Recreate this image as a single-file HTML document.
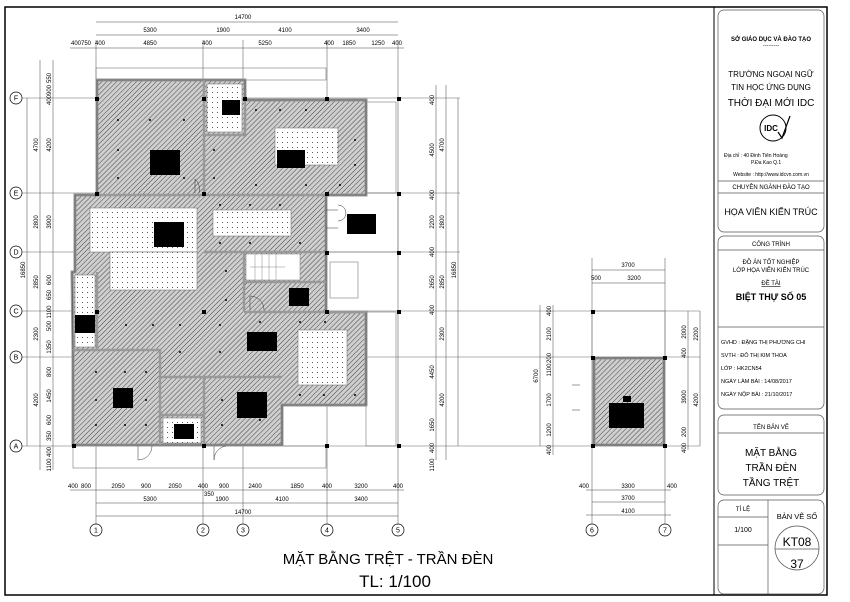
<!DOCTYPE html>
<html><head><meta charset="utf-8">
<style>
html,body{margin:0;padding:0;background:#fff;}
svg{display:block;}
text{font-family:"Liberation Sans",Arial,sans-serif;fill:#000;}
</style></head>
<body>
<svg width="850" height="602" viewBox="0 0 850 602" xmlns="http://www.w3.org/2000/svg">
<defs>
<pattern id="h" width="3.5" height="3.5" patternUnits="userSpaceOnUse" patternTransform="rotate(45)">
<rect width="3.5" height="3.5" fill="#cfcfcf"/>
<line x1="0" y1="0" x2="0" y2="3.5" stroke="#444" stroke-width="1"/>
</pattern>
<pattern id="d" width="5" height="5" patternUnits="userSpaceOnUse">
<rect width="5" height="5" fill="#fff"/>
<circle cx="2.5" cy="2.5" r="0.55" fill="#333"/>
</pattern>
</defs>

<rect x="5" y="7" width="822" height="588" fill="none" stroke="#000" stroke-width="1.5"/>
<line x1="714" y1="7" x2="714" y2="595" stroke="#000" stroke-width="1"/>

<g stroke="#666" stroke-width="0.6">
<line x1="22" y1="98" x2="460" y2="98"/>
<line x1="22" y1="193" x2="460" y2="193"/>
<line x1="22" y1="252" x2="460" y2="252"/>
<line x1="22" y1="311" x2="700" y2="311"/>
<line x1="22" y1="357" x2="700" y2="357"/>
<line x1="22" y1="446" x2="700" y2="446"/>
<line x1="96" y1="40" x2="96" y2="524"/>
<line x1="203" y1="40" x2="203" y2="524"/>
<line x1="243" y1="40" x2="243" y2="524"/>
<line x1="327" y1="40" x2="327" y2="524"/>
<line x1="398" y1="40" x2="398" y2="524"/>
<line x1="592" y1="258" x2="592" y2="524"/>
<line x1="665" y1="258" x2="665" y2="524"/>
</g>

<g fill="#fff" stroke="#000" stroke-width="0.7">
<circle cx="16" cy="98" r="6"/><circle cx="16" cy="193" r="6"/><circle cx="16" cy="252" r="6"/>
<circle cx="16" cy="311" r="6"/><circle cx="16" cy="357" r="6"/><circle cx="16" cy="446" r="6"/>
<circle cx="96" cy="530" r="6"/><circle cx="203" cy="530" r="6"/><circle cx="243" cy="530" r="6"/>
<circle cx="327" cy="530" r="6"/><circle cx="398" cy="530" r="6"/><circle cx="592" cy="530" r="6"/><circle cx="665" cy="530" r="6"/>
</g>
<g font-size="7" text-anchor="middle">
<text x="16" y="100.5">F</text><text x="16" y="195.5">E</text><text x="16" y="254.5">D</text>
<text x="16" y="313.5">C</text><text x="16" y="359.5">B</text><text x="16" y="448.5">A</text>
<text x="96" y="532.5">1</text><text x="203" y="532.5">2</text><text x="243" y="532.5">3</text>
<text x="327" y="532.5">4</text><text x="398" y="532.5">5</text><text x="592" y="532.5">6</text><text x="665" y="532.5">7</text>
</g>

<g fill="none" stroke="#777" stroke-width="0.6">
<rect x="96" y="68" width="230" height="12"/>
<rect x="73" y="446" width="253" height="22"/>
<rect x="326" y="193" width="72" height="59"/>
<rect x="330" y="262" width="28" height="36"/>
<rect x="366" y="102" width="30" height="91"/>
<rect x="366" y="312" width="30" height="134"/>
<rect x="592" y="311" width="73" height="46"/>
</g>

<path d="M97,80 L245,80 L245,100 L366,100 L366,195 L326,195 L326,312 L366,312 L366,405 L282,405 L282,445 L73,445 L73,350 L72,272 L75,272 L75,195 L97,195 Z" fill="url(#h)" stroke="#999" stroke-width="3"/>
<path d="M97,80 L245,80 L245,100 L366,100 L366,195 L326,195 L326,312 L366,312 L366,405 L282,405 L282,445 L73,445 L73,350 L72,272 L75,272 L75,195 L97,195 Z" fill="none" stroke="#444" stroke-width="0.6"/>

<g stroke="#999" stroke-width="2.5" fill="none">
<line x1="204" y1="80" x2="204" y2="195"/>
<line x1="204" y1="135" x2="245" y2="135"/>
<line x1="245" y1="100" x2="245" y2="135"/>
<line x1="97" y1="195" x2="326" y2="195"/>
<line x1="204" y1="252" x2="326" y2="252"/>
<line x1="244" y1="252" x2="244" y2="312"/>
<line x1="244" y1="282" x2="326" y2="282"/>
<line x1="97" y1="272" x2="97" y2="350"/>
<line x1="73" y1="350" x2="160" y2="350"/>
<line x1="160" y1="350" x2="160" y2="445"/>
<line x1="160" y1="377" x2="282" y2="377"/>
<line x1="204" y1="377" x2="204" y2="445"/>
<line x1="160" y1="415" x2="204" y2="415"/>
<line x1="244" y1="312" x2="366" y2="312"/>
</g>

<g fill="url(#d)" stroke="#666" stroke-width="0.5">
<rect x="207" y="84" width="35" height="48"/>
<rect x="275" y="128" width="63" height="37"/>
<rect x="90" y="208" width="107" height="44"/>
<rect x="110" y="252" width="87" height="38"/>
<rect x="213" y="210" width="78" height="26"/>
<rect x="75" y="275" width="20" height="72"/>
<rect x="298" y="330" width="49" height="55"/>
<rect x="163" y="418" width="38" height="25"/>
</g>
<rect x="246" y="254" width="54" height="26" fill="#fff" stroke="#777" stroke-width="0.5"/>
<g stroke="#888" stroke-width="0.5">
<line x1="255" y1="254" x2="255" y2="280"/><line x1="262" y1="254" x2="262" y2="280"/><line x1="269" y1="254" x2="269" y2="280"/><line x1="276" y1="254" x2="276" y2="280"/><line x1="250" y1="267" x2="285" y2="267"/>
</g>

<g fill="#000">
<circle cx="118" cy="120" r="1"/><circle cx="150" cy="120" r="1"/><circle cx="184" cy="120" r="1"/>
<circle cx="118" cy="150" r="1"/><circle cx="118" cy="178" r="1"/><circle cx="184" cy="178" r="1"/><circle cx="214" cy="150" r="1"/><circle cx="214" cy="178" r="1"/>
<circle cx="256" cy="110" r="1"/><circle cx="280" cy="110" r="1"/><circle cx="306" cy="110" r="1"/><circle cx="355" cy="140" r="1"/><circle cx="355" cy="165" r="1"/><circle cx="256" cy="185" r="1"/><circle cx="306" cy="185" r="1"/><circle cx="340" cy="185" r="1"/>
<circle cx="220" cy="205" r="1"/><circle cx="250" cy="205" r="1"/><circle cx="280" cy="205" r="1"/><circle cx="220" cy="243" r="1"/><circle cx="250" cy="243" r="1"/><circle cx="300" cy="243" r="1"/>
<circle cx="226" cy="271" r="1"/><circle cx="226" cy="300" r="1"/>
<circle cx="126" cy="325" r="1"/><circle cx="153" cy="325" r="1"/><circle cx="180" cy="325" r="1"/><circle cx="220" cy="325" r="1"/><circle cx="180" cy="352" r="1"/><circle cx="220" cy="352" r="1"/>
<circle cx="96" cy="372" r="1"/><circle cx="125" cy="372" r="1"/><circle cx="146" cy="372" r="1"/><circle cx="96" cy="400" r="1"/><circle cx="146" cy="400" r="1"/><circle cx="96" cy="425" r="1"/><circle cx="125" cy="425" r="1"/><circle cx="146" cy="425" r="1"/>
<circle cx="222" cy="400" r="1"/><circle cx="260" cy="420" r="1"/><circle cx="222" cy="425" r="1"/>
<circle cx="260" cy="322" r="1"/><circle cx="300" cy="322" r="1"/><circle cx="325" cy="322" r="1"/><circle cx="355" cy="395" r="1"/><circle cx="300" cy="395" r="1"/><circle cx="324" cy="395" r="1"/>
<circle cx="614" cy="373" r="1"/><circle cx="643" cy="373" r="1"/><circle cx="614" cy="430" r="1"/><circle cx="643" cy="430" r="1"/>
</g>

<rect x="594" y="358" width="70" height="87" fill="url(#h)" stroke="#999" stroke-width="3"/>
<rect x="594" y="358" width="70" height="87" fill="none" stroke="#444" stroke-width="0.6"/>

<g fill="#000">
<rect x="150" y="150" width="30" height="25"/>
<rect x="222" y="100" width="18" height="15"/>
<rect x="277" y="150" width="28" height="18"/>
<rect x="154" y="222" width="30" height="25"/>
<rect x="347" y="214" width="29" height="20"/>
<rect x="289" y="288" width="20" height="18"/>
<rect x="75" y="315" width="20" height="18"/>
<rect x="247" y="332" width="30" height="19"/>
<rect x="113" y="388" width="20" height="20"/>
<rect x="237" y="392" width="30" height="26"/>
<rect x="174" y="424" width="20" height="15"/>
<rect x="609" y="403" width="35" height="25"/>
<rect x="623" y="396" width="8" height="6"/>
</g>
<g fill="#000">
<rect x="95" y="97" width="4" height="4"/><rect x="202" y="97" width="4" height="4"/><rect x="243" y="97" width="4" height="4"/><rect x="325" y="97" width="4" height="4"/><rect x="397" y="97" width="4" height="4"/>
<rect x="95" y="192" width="4" height="4"/><rect x="202" y="192" width="4" height="4"/><rect x="325" y="192" width="4" height="4"/><rect x="397" y="192" width="4" height="4"/>
<rect x="325" y="251" width="4" height="4"/><rect x="397" y="251" width="4" height="4"/>
<rect x="95" y="310" width="4" height="4"/><rect x="202" y="310" width="4" height="4"/><rect x="325" y="310" width="4" height="4"/><rect x="397" y="310" width="4" height="4"/>
<rect x="72" y="444" width="4" height="4"/><rect x="202" y="444" width="4" height="4"/><rect x="325" y="444" width="4" height="4"/><rect x="397" y="444" width="4" height="4"/>
<rect x="591" y="310" width="4" height="4"/><rect x="591" y="356" width="4" height="4"/><rect x="663" y="356" width="4" height="4"/><rect x="591" y="444" width="4" height="4"/><rect x="663" y="444" width="4" height="4"/>
</g>
<g fill="none" stroke="#333" stroke-width="0.5">
<path d="M138,446 v14 a14,14 0 0 0 14,-14"/><path d="M214,446 v14 a14,14 0 0 1 12,-14"/>
<path d="M326,210 h12 M326,228 h12 M338,205 a8,8 0 0 1 0,16"/>
<path d="M572,385 h8 M572,410 h8"/>
<path d="M250,310 v-14 a14,14 0 0 1 14,14"/>
<path d="M195,193 v-14 a14,14 0 0 1 4,14"/>
</g>

<g stroke="#444" stroke-width="0.5">
<line x1="96" y1="22" x2="398" y2="22"/>
<line x1="96" y1="35" x2="398" y2="35"/>
<line x1="70" y1="48" x2="404" y2="48"/>
<line x1="70" y1="490" x2="404" y2="490"/>
<line x1="96" y1="503" x2="398" y2="503"/>
<line x1="96" y1="516" x2="398" y2="516"/>
<line x1="40" y1="60" x2="40" y2="470"/>
<line x1="53" y1="60" x2="53" y2="470"/>
<line x1="27" y1="98" x2="27" y2="446"/>
<line x1="436" y1="85" x2="436" y2="460"/>
<line x1="446" y1="85" x2="446" y2="460"/>
<line x1="458" y1="98" x2="458" y2="446"/>
<line x1="592" y1="270" x2="665" y2="270"/>
<line x1="592" y1="283" x2="665" y2="283"/>
<line x1="586" y1="490" x2="671" y2="490"/>
<line x1="592" y1="502" x2="665" y2="502"/>
<line x1="586" y1="515" x2="671" y2="515"/>
<line x1="540" y1="305" x2="540" y2="446"/>
<line x1="553" y1="305" x2="553" y2="455"/>
<line x1="688" y1="311" x2="688" y2="450"/>
<line x1="700" y1="311" x2="700" y2="446"/>
</g>

<g font-size="6" text-anchor="middle">
<text x="243" y="19">14700</text>
<text x="150" y="32">5300</text><text x="223" y="32">1900</text><text x="285" y="32">4100</text><text x="363" y="32">3400</text>
<text x="76" y="45">400</text><text x="86" y="45">750</text><text x="100" y="45">400</text><text x="150" y="45">4850</text><text x="207" y="45">400</text><text x="265" y="45">5250</text><text x="329" y="45">400</text><text x="349" y="45">1850</text><text x="378" y="45">1250</text><text x="397" y="45">400</text>
<text x="73" y="488">400</text><text x="86" y="488">800</text><text x="118" y="488">2050</text><text x="146" y="488">900</text><text x="175" y="488">2050</text><text x="203" y="488">400</text><text x="209" y="496">350</text><text x="224" y="488">900</text><text x="255" y="488">2400</text><text x="297" y="488">1850</text><text x="327" y="488">400</text><text x="361" y="488">3200</text><text x="398" y="488">400</text>
<text x="150" y="501">5300</text><text x="222" y="501">1900</text><text x="282" y="501">4100</text><text x="361" y="501">3400</text>
<text x="243" y="514">14700</text>
<text x="628" y="267">3700</text><text x="596" y="280">500</text><text x="634" y="280">3200</text>
<text x="584" y="488">400</text><text x="628" y="488">3300</text><text x="672" y="488">400</text>
<text x="628" y="500">3700</text><text x="628" y="513">4100</text>
</g>
<g font-size="6" text-anchor="middle">
<text transform="translate(25,270) rotate(-90)">16850</text>
<text transform="translate(38,145) rotate(-90)">4700</text>
<text transform="translate(38,222) rotate(-90)">2800</text>
<text transform="translate(38,282) rotate(-90)">2850</text>
<text transform="translate(38,334) rotate(-90)">2300</text>
<text transform="translate(38,400) rotate(-90)">4200</text>
<text transform="translate(51,78) rotate(-90)">550</text>
<text transform="translate(51,90) rotate(-90)">900</text>
<text transform="translate(51,100) rotate(-90)">400</text>
<text transform="translate(51,145) rotate(-90)">4200</text>
<text transform="translate(51,222) rotate(-90)">3900</text>
<text transform="translate(51,280) rotate(-90)">600</text>
<text transform="translate(51,295) rotate(-90)">650</text>
<text transform="translate(51,312) rotate(-90)">1100</text>
<text transform="translate(51,326) rotate(-90)">500</text>
<text transform="translate(51,347) rotate(-90)">1350</text>
<text transform="translate(51,372) rotate(-90)">800</text>
<text transform="translate(51,396) rotate(-90)">1450</text>
<text transform="translate(51,420) rotate(-90)">600</text>
<text transform="translate(51,436) rotate(-90)">350</text>
<text transform="translate(51,452) rotate(-90)">400</text>
<text transform="translate(51,465) rotate(-90)">1100</text>
<text transform="translate(434,100) rotate(-90)">400</text>
<text transform="translate(434,150) rotate(-90)">4500</text>
<text transform="translate(434,195) rotate(-90)">400</text>
<text transform="translate(434,222) rotate(-90)">2200</text>
<text transform="translate(434,252) rotate(-90)">400</text>
<text transform="translate(434,282) rotate(-90)">2650</text>
<text transform="translate(434,310) rotate(-90)">400</text>
<text transform="translate(434,372) rotate(-90)">4450</text>
<text transform="translate(434,425) rotate(-90)">1650</text>
<text transform="translate(434,448) rotate(-90)">400</text>
<text transform="translate(434,465) rotate(-90)">1100</text>
<text transform="translate(444,145) rotate(-90)">4700</text>
<text transform="translate(444,222) rotate(-90)">2800</text>
<text transform="translate(444,282) rotate(-90)">2850</text>
<text transform="translate(444,334) rotate(-90)">2300</text>
<text transform="translate(444,400) rotate(-90)">4200</text>
<text transform="translate(456,270) rotate(-90)">16850</text>
<text transform="translate(538,376) rotate(-90)">6700</text>
<text transform="translate(551,311) rotate(-90)">400</text>
<text transform="translate(551,334) rotate(-90)">2100</text>
<text transform="translate(551,358) rotate(-90)">200</text>
<text transform="translate(551,370) rotate(-90)">1100</text>
<text transform="translate(551,400) rotate(-90)">1700</text>
<text transform="translate(551,430) rotate(-90)">1200</text>
<text transform="translate(551,450) rotate(-90)">400</text>
<text transform="translate(686,332) rotate(-90)">2000</text>
<text transform="translate(686,353) rotate(-90)">400</text>
<text transform="translate(686,397) rotate(-90)">3900</text>
<text transform="translate(686,432) rotate(-90)">200</text>
<text transform="translate(686,448) rotate(-90)">400</text>
<text transform="translate(698,334) rotate(-90)">2200</text>
<text transform="translate(698,400) rotate(-90)">4200</text>
</g>

<text x="388" y="564" font-size="15" text-anchor="middle">MẶT BẰNG TRỆT - TRẦN ĐÈN</text>
<text x="395" y="587" font-size="17" text-anchor="middle">TL: 1/100</text>

<g fill="none" stroke="#555" stroke-width="0.7">
<rect x="718" y="10" width="106" height="222" rx="6"/>
<line x1="718" y1="181" x2="824" y2="181"/><line x1="718" y1="193" x2="824" y2="193"/>
<rect x="718" y="236" width="106" height="173" rx="6"/>
<line x1="718" y1="250" x2="824" y2="250"/><line x1="718" y1="327" x2="824" y2="327"/>
<rect x="718" y="415" width="106" height="80" rx="6"/>
<line x1="718" y1="433" x2="824" y2="433"/>
<rect x="718" y="500" width="106" height="94" rx="6"/>
<line x1="768" y1="500" x2="768" y2="594"/>
<line x1="718" y1="517" x2="768" y2="517"/><line x1="718" y1="545" x2="768" y2="545"/>
<circle cx="797" cy="548" r="22"/>
<line x1="775" y1="549" x2="819" y2="549"/>
<circle cx="773" cy="128" r="13" stroke="#000" stroke-width="1"/>
<path d="M778,132 l4,6 l8,-22" stroke="#000" stroke-width="1.2"/>
</g>
<g text-anchor="middle" font-size="5.5">
<text x="771" y="41" font-size="6" font-weight="bold">SỞ GIÁO DỤC VÀ ĐÀO TẠO</text>
<text x="771" y="47">---------</text>
<text x="771" y="77" font-size="8">TRƯỜNG NGOẠI NGỮ</text>
<text x="771" y="90" font-size="8">TIN HỌC ỨNG DỤNG</text>
<text x="771" y="106" font-size="10">THỜI ĐẠI MỚI IDC</text>
<text x="771" y="131" font-size="8" font-weight="bold" font-family="Liberation Serif">IDC</text>
<text x="724" y="157" font-size="5" text-anchor="start">Địa chỉ  : 40 Đinh Tiên Hoàng</text>
<text x="751" y="164" font-size="5" text-anchor="start">P.Đa Kao   Q.1</text>
<text x="771" y="176" font-size="5">Website : http://www.idcvn.com.vn</text>
<text x="771" y="189" font-size="6">CHUYÊN NGÀNH ĐÀO TẠO</text>
<text x="771" y="215" font-size="9">HỌA VIÊN KIẾN TRÚC</text>
<text x="771" y="246" font-size="6">CÔNG TRÌNH</text>
<text x="771" y="264" font-size="6">ĐỒ ÁN TỐT NGHIỆP</text>
<text x="771" y="272" font-size="6">LỚP HỌA VIÊN KIẾN TRÚC</text>
<text x="771" y="285" font-size="6" text-decoration="underline">ĐỀ TÀI</text>
<text x="771" y="300" font-size="9" font-weight="bold">BIỆT THỰ SỐ 05</text>
</g>
<g font-size="5.5">
<text x="721" y="344">GVHD  : ĐẶNG THỊ PHƯƠNG CHI</text>
<text x="721" y="357">SVTH   : ĐỖ THỊ KIM THOA</text>
<text x="721" y="370">LỚP     : HK2CN54</text>
<text x="721" y="383">NGÀY LÀM BÀI  : 14/08/2017</text>
<text x="721" y="396">NGÀY NỘP BÀI  : 21/10/2017</text>
</g>
<g text-anchor="middle">
<text x="771" y="429" font-size="6">TÊN BẢN VẼ</text>
<text x="771" y="456" font-size="10">MẶT BẰNG</text>
<text x="771" y="471" font-size="10">TRẦN ĐÈN</text>
<text x="771" y="486" font-size="10">TẦNG TRỆT</text>
<text x="743" y="511" font-size="6">TÍ LỆ</text>
<text x="743" y="532" font-size="7">1/100</text>
<text x="797" y="519" font-size="7.5">BẢN VẼ SỐ</text>
<text x="797" y="546" font-size="12">KT08</text>
<text x="797" y="568" font-size="12">37</text>
</g>
</svg>
</body></html>
